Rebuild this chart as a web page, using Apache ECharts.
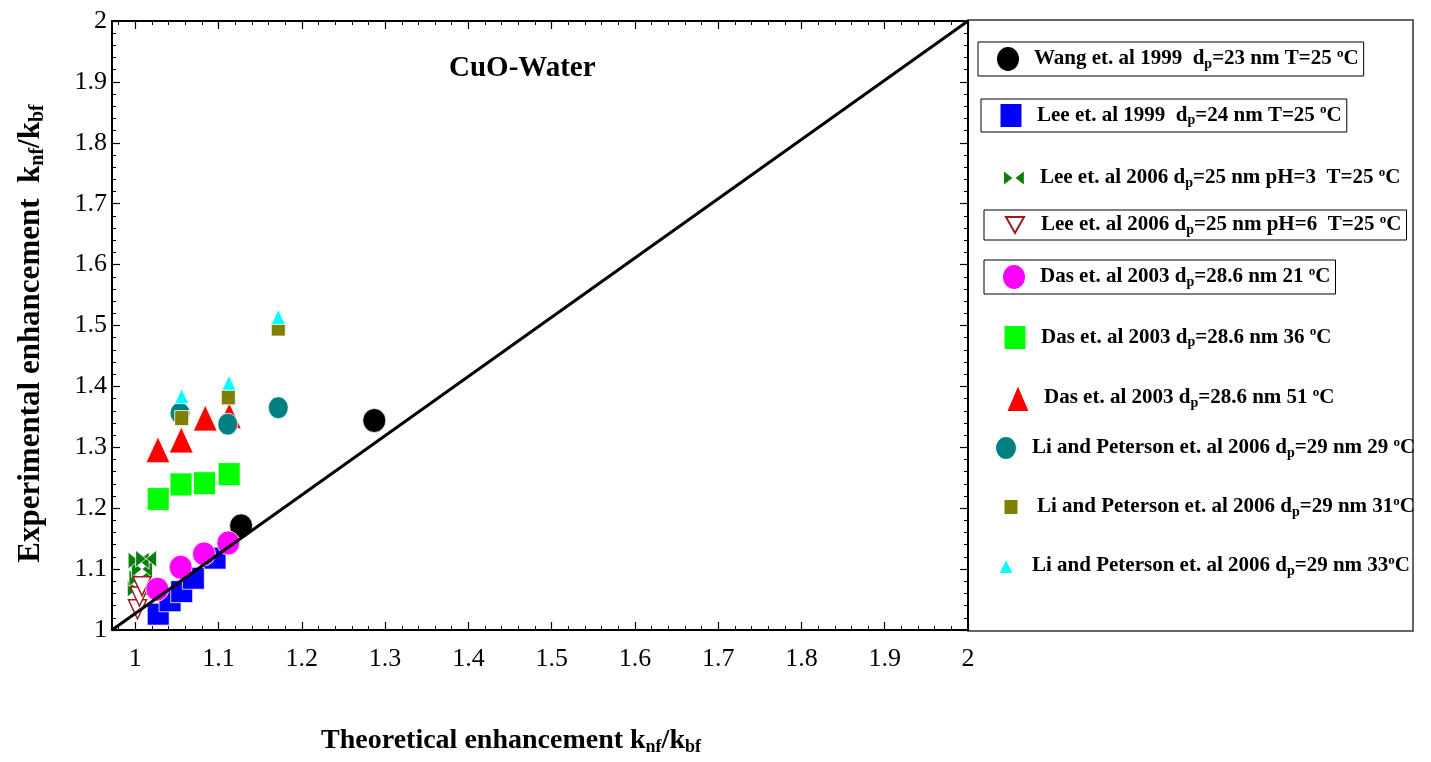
<!DOCTYPE html>
<html><head><meta charset="utf-8">
<script src="https://cdn.jsdelivr.net/npm/echarts@6/dist/echarts.min.js"></script>
<style>html,body{margin:0;padding:0;background:#fff}#c{width:1431px;height:762px}</style>
</head><body><div id="c"></div>
<script>
// ---------- data ----------
const xTickLabels = [1, 1.1, 1.2, 1.3, 1.4, 1.5, 1.6, 1.7, 1.8, 1.9, 2];
const yTickLabels = [1, 1.1, 1.2, 1.3, 1.4, 1.5, 1.6, 1.7, 1.8, 1.9, 2];
const seriesNames = [
  'Wang 1999', 'Lee 1999', 'Lee 2006 pH3', 'Lee 2006 pH6', 'Das 21',
  'Das 36', 'Das 51', 'Li 29', 'Li 31', 'Li 33'
];
const legendLabels = [
  '{t|Wang et. al 1999  d}{s|p}{t|=23 nm T=25 }{o|o}{t|C}',
  '{t|Lee et. al 1999  d}{s|p}{t|=24 nm T=25 }{o|o}{t|C}',
  '{t|Lee et. al 2006 d}{s|p}{t|=25 nm pH=3  T=25 }{o|o}{t|C}',
  '{t|Lee et. al 2006 d}{s|p}{t|=25 nm pH=6  T=25 }{o|o}{t|C}',
  '{t|Das et. al 2003 d}{s|p}{t|=28.6 nm 21 }{o|o}{t|C}',
  '{t|Das et. al 2003 d}{s|p}{t|=28.6 nm 36 }{o|o}{t|C}',
  '{t|Das et. al 2003 d}{s|p}{t|=28.6 nm 51 }{o|o}{t|C}',
  '{t|Li and Peterson et. al 2006 d}{s|p}{t|=29 nm 29 }{o|o}{t|C}',
  '{t|Li and Peterson et. al 2006 d}{s|p}{t|=29 nm 31}{o|o}{t|C}',
  '{t|Li and Peterson et. al 2006 d}{s|p}{t|=29 nm 33}{o|o}{t|C}'
];
const wangData = [[1.127, 1.171], [1.287, 1.344]];
const lee1999Data = [[1.0275, 1.026], [1.0417, 1.048], [1.0557, 1.063], [1.0697, 1.085], [1.0957, 1.118]];
const lee2006pH3Data = [[1.003, 1.068], [1.005, 1.085], [1.008, 1.100], [1.004, 1.114], [1.013, 1.117]];
const lee2006pH6Data = [[1.0026, 1.034], [1.005, 1.055], [1.008, 1.072]];
const das21Data = [[1.0264, 1.067], [1.0545, 1.103], [1.0825, 1.125], [1.1117, 1.143]];
const das36Data = [[1.0275, 1.215], [1.0549, 1.239], [1.0831, 1.241], [1.1127, 1.256]];
const das51Data = [[1.0272, 1.296], [1.0552, 1.312], [1.084, 1.348], [1.1129, 1.352]];
const li29Data = [[1.0537, 1.356], [1.111, 1.338], [1.1717, 1.365]];
const li31Data = [[1.0557, 1.348], [1.1117, 1.382], [1.1717, 1.495]];
const li33Data = [[1.0557, 1.384], [1.1125, 1.406], [1.1717, 1.514]];
const diagonalLine = [[0.972, 1], [2, 2]];
const xMin = 0.972, xMax = 2, yMin = 1, yMax = 2;

// ---------- helpers ----------
const FF = 'Liberation Serif, Times New Roman, serif';
function minorTicks(a, b) { const r = []; for (let i = Math.ceil(a / 0.02 - 1e-9); i * 0.02 <= b + 1e-9; i++) r.push(+(i * 0.02).toFixed(2)); return r; }
const xMinor = minorTicks(xMin, xMax), yMinor = minorTicks(yMin, yMax);
const ell = (w, h) => `path://M0,${h / 2}A${w / 2},${h / 2},0,1,1,${w},${h / 2}A${w / 2},${h / 2},0,1,1,0,${h / 2}Z`;
const box = (w, h) => `path://M0,0L${w},0L${w},${h}L0,${h}Z`;
const triUp = (w, h) => `path://M${w / 2},0L${w},${h}L0,${h}Z`;
const triDn = (w, h) => `path://M0,0L${w},0L${w / 2},${h}Z`;
const bowtie = 'path://M0,0L9,7L0,14ZM18,0L9,7L18,14Z';

const seriesData = [wangData, lee1999Data, lee2006pH3Data, lee2006pH6Data, das21Data, das36Data, das51Data, li29Data, li31Data, li33Data];
const styles = [
  { symbol: 'circle', size: [23, 24], color: '#000000' },
  { symbol: 'rect', size: [22, 22], color: '#0000ff' },
  { symbol: bowtie, size: [21, 17], color: '#0b7d0b' },
  { symbol: 'triangle', size: [18, 19], color: '#ffffff', border: '#9b1c1c', bw: 1.5, rot: 180 },
  { symbol: 'circle', size: [23, 24], color: '#ff00ff' },
  { symbol: 'rect', size: [22, 23], color: '#00ff00' },
  { symbol: 'triangle', size: [24, 26], color: '#ff0000' },
  { symbol: 'circle', size: [20, 22], color: '#008080' },
  { symbol: 'rect', size: [14, 15], color: '#808000' },
  { symbol: 'triangle', size: [14, 15], color: '#00ffff' }
];
// legend layout: icon centre x, centre y, icon, icon w, icon h, box left (null = no box)
const legendLayout = [
  [1007, 57, ell(24, 26), 24, 26, 978],
  [1010, 114, box(23, 25), 23, 25, 981],
  [1013, 178, bowtie, 22, 17, null],
  [1014, 225, triDn(18, 16), 18, 16, 984],
  [1013, 275, ell(24, 26), 24, 26, 984],
  [1014, 336, box(23, 25), 23, 25, null],
  [1017, 395, triUp(24, 28), 24, 28, null],
  [1005, 447, ell(22, 24), 22, 24, null],
  [1010, 507, box(15, 16), 15, 16, null],
  [1005, 566, triUp(16, 16), 16, 16, null]
];

const series = seriesData.map((d, i) => ({
  name: seriesNames[i], type: 'scatter', xAxisIndex: 0, yAxisIndex: 0,
  data: d, symbol: styles[i].symbol, symbolSize: styles[i].size,
  symbolRotate: styles[i].rot || 0, symbolKeepAspect: false,
  itemStyle: { color: styles[i].color, borderColor: styles[i].border || '#ffffff', borderWidth: styles[i].bw || 0.8, opacity: 1 },
  z: 2 + i * 0.01, silent: true
}));
series.push({
  type: 'line', xAxisIndex: 0, yAxisIndex: 0, data: diagonalLine, symbol: 'none',
  lineStyle: { color: '#000', width: 3 }, z: 5, silent: true, animation: false
});

const legendRich = {
  t: { fontFamily: FF, fontWeight: 'bold', fontSize: 21, color: '#000', verticalAlign: 'middle' },
  s: { fontFamily: FF, fontWeight: 'bold', fontSize: 14, color: '#000', padding: [10, 0, 0, 0], verticalAlign: 'middle' },
  o: { fontFamily: FF, fontWeight: 'bold', fontSize: 13, color: '#000', padding: [0, 0, 11, 0], verticalAlign: 'middle' }
};
const legends = legendLayout.map((L, i) => {
  const [cx, cy, icon, w, h, boxLeft] = L;
  const pl = boxLeft !== null ? cx - boxLeft - w / 2 : 8;
  return {
    data: [{ name: seriesNames[i], icon: icon }], orient: 'vertical', selectedMode: false,
    left: cx - pl - w / 2, top: cy - 15,
    itemWidth: w, itemHeight: h, padding: [3, 5, 3, pl],
    symbolKeepAspect: true, symbolRotate: 0,
    borderColor: boxLeft !== null ? '#000' : 'transparent', borderWidth: boxLeft !== null ? 1 : 0,
    formatter: () => legendLabels[i],
    textStyle: { rich: legendRich, fontFamily: FF, fontWeight: 'bold', fontSize: 21, color: '#000', padding: [0, 0, 0, 21 - w / 2] }
  };
});

const xNameRich = {
  t: { fontFamily: FF, fontWeight: 'bold', fontSize: 28, color: '#000', verticalAlign: 'middle' },
  s: { fontFamily: FF, fontWeight: 'bold', fontSize: 18, color: '#000', padding: [13, 0, 0, 0], verticalAlign: 'middle' }
};
const yNameRich = {
  t: { fontFamily: FF, fontWeight: 'bold', fontSize: 31, color: '#000', verticalAlign: 'middle' },
  s: { fontFamily: FF, fontWeight: 'bold', fontSize: 20, color: '#000', padding: [14, 0, 0, 0], verticalAlign: 'middle' }
};
const labelStyle = { fontFamily: FF, fontSize: 26, color: '#000' };
const majorTick = (vals) => ({ show: true, inside: true, length: 8, customValues: vals, lineStyle: { color: '#000', width: 1.2 } });
const minorTick = (vals) => ({ show: true, inside: true, length: 4, customValues: vals, lineStyle: { color: '#000', width: 1 } });
const lineOn = { show: true, onZero: false, lineStyle: { color: '#000', width: 2 } };
const lineOff = { show: false, onZero: false };

const option = {
  animation: false,
  backgroundColor: '#fff',
  title: { text: 'CuO-Water', left: 449, top: 54, padding: 0, textStyle: { fontFamily: FF, fontWeight: 'bold', fontSize: 29, color: '#000' } },
  grid: [
    { left: 112, right: 463, top: 21, bottom: 132 },
    { left: 112, right: 463, top: 21, bottom: 132 }
  ],
  xAxis: [
    { gridIndex: 0, type: 'value', min: xMin, max: xMax, position: 'bottom', axisLine: lineOn,
      axisTick: majorTick(xTickLabels), splitLine: { show: false },
      axisLabel: { customValues: xTickLabels, margin: 16, ...labelStyle },
      name: '{t|Theoretical enhancement k}{s|nf}{t|/k}{s|bf}', nameLocation: 'middle', nameGap: 95,
      nameTextStyle: { rich: xNameRich, padding: [0, 58, 0, 0] } },
    { gridIndex: 0, type: 'value', min: xMin, max: xMax, position: 'top', axisLine: lineOn,
      axisTick: majorTick(xTickLabels), axisLabel: { show: false }, splitLine: { show: false } },
    { gridIndex: 1, type: 'value', min: xMin, max: xMax, position: 'bottom', axisLine: lineOff,
      axisTick: minorTick(xMinor), axisLabel: { show: false }, splitLine: { show: false } },
    { gridIndex: 1, type: 'value', min: xMin, max: xMax, position: 'top', axisLine: lineOff,
      axisTick: minorTick(xMinor), axisLabel: { show: false }, splitLine: { show: false } }
  ],
  yAxis: [
    { gridIndex: 0, type: 'value', min: yMin, max: yMax, position: 'left', axisLine: lineOn,
      axisTick: majorTick(yTickLabels), splitLine: { show: false },
      axisLabel: { customValues: yTickLabels, margin: 5, ...labelStyle },
      name: '{t|Experimental enhancement  k}{s|nf}{t|/k}{s|bf}', nameLocation: 'middle', nameGap: 64,
      nameTextStyle: { rich: yNameRich, padding: [0, 16, 0, 0] } },
    { gridIndex: 0, type: 'value', min: yMin, max: yMax, position: 'right', axisLine: lineOn,
      axisTick: majorTick(yTickLabels), axisLabel: { show: false }, splitLine: { show: false } },
    { gridIndex: 1, type: 'value', min: yMin, max: yMax, position: 'left', axisLine: lineOff,
      axisTick: minorTick(yMinor), axisLabel: { show: false }, splitLine: { show: false } },
    { gridIndex: 1, type: 'value', min: yMin, max: yMax, position: 'right', axisLine: lineOff,
      axisTick: minorTick(yMinor), axisLabel: { show: false }, splitLine: { show: false } }
  ],
  legend: legends,
  graphic: [
    { type: 'rect', shape: { x: 968, y: 20, width: 445, height: 611 }, style: { fill: 'none', stroke: '#333', lineWidth: 1.5 }, z: -1, silent: true }
  ],
  series: series
};
const chart = echarts.init(document.getElementById('c'), null, { renderer: 'canvas' });
chart.setOption(option);
</script></body></html>
